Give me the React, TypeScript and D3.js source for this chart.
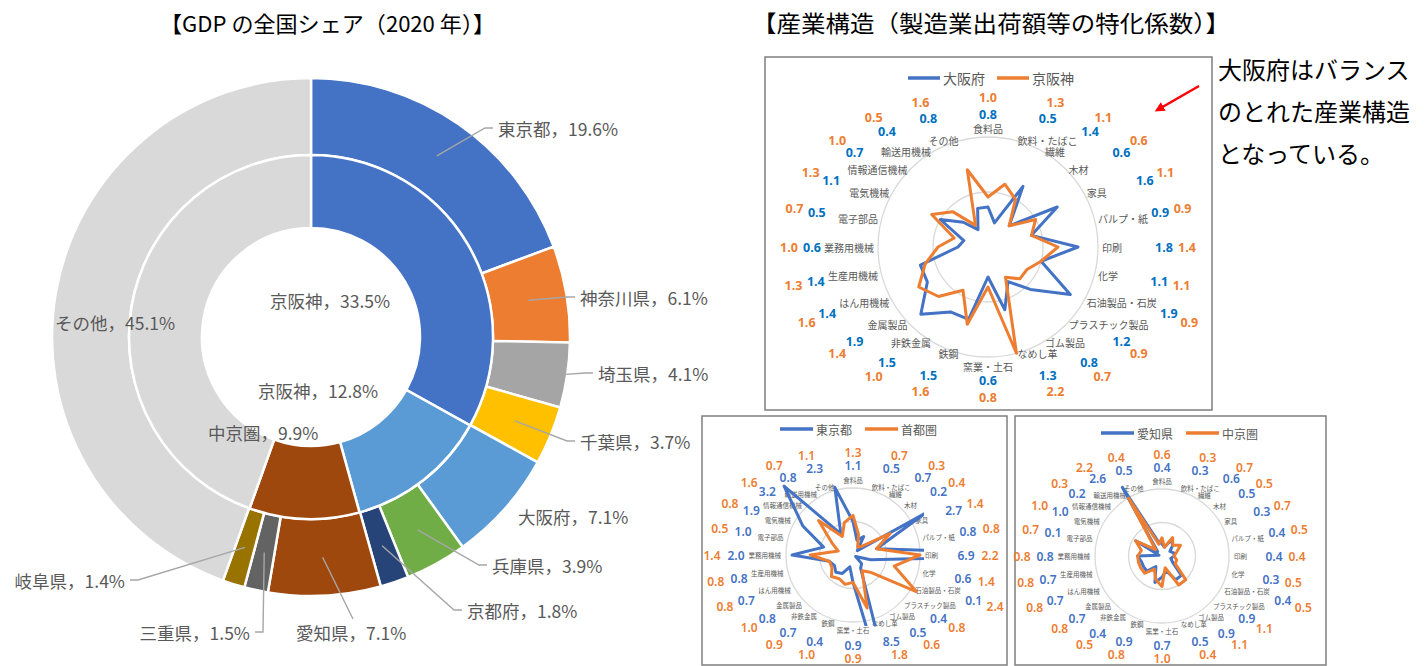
import * as d3 from "d3";
import { useEffect, useRef } from "react";

// 産業（特化係数）: 食料品から時計回り
const industries = [
  "食料品", "飲料・たばこ", "繊維", "木材", "家具", "パルプ・紙", "印刷", "化学",
  "石油製品・石炭", "プラスチック製品", "ゴム製品", "なめし革", "窯業・土石", "鉄鋼",
  "非鉄金属", "金属製品", "はん用機械", "生産用機械", "業務用機械", "電子部品",
  "電気機械", "情報通信機械", "輸送用機械", "その他",
];
const osaka = [0.8, 0.5, 1.4, 0.6, 1.6, 0.9, 1.8, 1.1, 1.9, 1.2, 0.8, 1.3, 0.6, 1.5, 1.5, 1.9, 1.4, 1.4, 0.6, 0.5, 1.1, 0.7, 0.4, 0.8];
const keihanshin = [1.0, 1.3, 1.1, 0.6, 1.1, 0.9, 1.4, 1.1, 0.9, 0.9, 0.7, 2.2, 0.8, 1.6, 1.0, 1.4, 1.6, 1.3, 1.0, 0.7, 1.3, 1.0, 0.5, 1.6];
const tokyo = [1.1, 0.5, 0.7, 0.2, 2.7, 0.8, 6.9, 0.6, 0.1, 0.4, 0.5, 8.5, 0.9, 0.4, 0.7, 0.8, 0.7, 0.8, 2.0, 1.0, 1.9, 3.2, 0.8, 2.3];
const shutoken = [1.3, 0.7, 0.3, 0.4, 1.4, 0.8, 2.2, 1.4, 2.4, 0.8, 0.6, 1.8, 0.9, 1.0, 0.9, 1.0, 0.8, 0.8, 1.4, 0.5, 0.8, 1.6, 0.7, 1.1];
const aichi = [0.4, 0.3, 0.6, 0.5, 0.3, 0.4, 0.4, 0.3, 0.4, 0.9, 0.9, 0.5, 0.7, 0.9, 0.4, 0.7, 0.7, 0.7, 0.8, 0.1, 1.0, 0.2, 2.6, 0.5];
const chukyo = [0.6, 0.3, 0.7, 0.5, 0.7, 0.5, 0.4, 0.5, 0.5, 1.1, 1.1, 0.4, 1.0, 0.8, 0.5, 0.8, 0.8, 0.8, 0.8, 0.7, 1.0, 0.3, 2.2, 0.4];
const ringValues = [1.1, 2.2];

// GDP シェア（外側：都府県、内側：圏域）
const prefNames = ["東京都", "神奈川県", "埼玉県", "千葉県", "大阪府", "兵庫県", "京都府", "愛知県", "三重県", "岐阜県", "その他"];
const prefShares = [19.6, 6.1, 4.1, 3.7, 7.1, 3.9, 1.8, 7.1, 1.5, 1.4, 45.1];
const prefColors = ["#4472C4", "#ED7D31", "#A5A5A5", "#FFC000", "#5B9BD5", "#70AD47", "#264478", "#9E480E", "#636363", "#997300", "#D9D9D9"];
const blocLabels = ["京阪神", "京阪神", "中京圏", ""];
const blocShares = [33.5, 12.8, 9.9, 45.1];
const blocColors = ["#4472C4", "#5B9BD5", "#9E480E", "#D9D9D9"];

const JP = '"Noto Sans CJK JP", "Noto Sans", sans-serif';
const NUM = '"Noto Sans", "DejaVu Sans", sans-serif';
const GRAY = "#595959";

type Series = { name: string; values: number[]; color: string; labelColor: string; rx: number; ry: number };
type RadarCfg = {
  id: string; cx: number; cy: number; rMax: number; vMax: number;
  labelRx: number; labelRy: number; catFont: number; lineW: number;
  valueFont: number; valueWeight: number; series: Series[];
  legend: { x: number; y: number; gap: number; font: number; len: number };
  clipHalf?: number;
};

function drawRadar(svg: d3.Selection<SVGSVGElement, unknown, null, undefined>, c: RadarCfg) {
  const n = industries.length;
  const ang = (i: number) => (i * 2 * Math.PI) / n;
  const r = d3.scaleLinear().domain([0, c.vMax]).range([0, c.rMax]);
  const g = svg.append("g").attr("transform", `translate(${c.cx},${c.cy})`);

  g.selectAll("circle.ring")
    .data(ringValues)
    .join("circle")
    .attr("class", "ring")
    .attr("r", (d) => r(d))
    .attr("fill", "none")
    .attr("stroke", "#D9D9D9")
    .attr("stroke-width", 1.3);

  // category labels
  const catY = (i: number) => {
    const co = Math.cos(ang(i));
    const ry = Math.abs(co) > 0.99 ? c.labelRx : c.labelRy;
    return -(ry + c.catFont / 2) * co;
  };
  const cats = g.selectAll("text.cat")
    .data(industries)
    .join("text")
    .attr("class", "cat")
    .attr("x", (_, i) => c.labelRx * Math.sin(ang(i)))
    .attr("y", (_, i) => catY(i))
    .attr("text-anchor", (_, i) => {
      const s = Math.sin(ang(i));
      return s > 0.01 ? "start" : s < -0.01 ? "end" : "middle";
    })
    .attr("dominant-baseline", "central")
    .attr("font-family", JP)
    .attr("font-size", c.catFont)
    .attr("fill", GRAY)
    .text((d) => d);

  const catBoxes = (cats.nodes() as SVGTextElement[]).map((node, i) => {
    const bb = node.getBBox();
    const y = catY(i);
    return { x0: bb.x, x1: bb.x + bb.width, y0: y - c.catFont * 0.6, y1: y + c.catFont * 0.6 };
  });

  const plot = g.append("g");
  if (c.clipHalf) {
    svg.append("clipPath").attr("id", c.id).append("rect")
      .attr("x", -c.clipHalf).attr("y", -c.clipHalf)
      .attr("width", c.clipHalf * 2).attr("height", c.clipHalf * 2);
    plot.attr("clip-path", `url(#${c.id})`);
  }
  const line = d3.lineRadial<number>()
    .angle((_, i) => ang(i))
    .radius((d) => r(d))
    .curve(d3.curveLinearClosed);
  c.series.forEach((s) => {
    plot.append("path")
      .attr("d", line(s.values))
      .attr("fill", "none")
      .attr("stroke", s.color)
      .attr("stroke-width", c.lineW)
      .attr("stroke-linejoin", "round");
  });

  // value labels outside: squarish ellipse, pushed sideways off the category labels
  const vw = c.valueFont * 0.8;
  const vh = c.valueFont * 0.5 + 1;
  const hits = (x: number, y: number) =>
    catBoxes.some((b) => x + vw > b.x0 - 2 && x - vw < b.x1 + 2 && y + vh > b.y0 && y - vh < b.y1);
  const base = (s: Series, i: number) => {
    const sn = Math.sin(ang(i));
    return {
      x: s.rx * Math.sign(sn) * Math.pow(Math.abs(sn), 0.8),
      y: -s.ry * Math.cos(ang(i)),
      dir: Math.abs(sn) < 0.01 ? 0 : Math.sign(sn),
    };
  };
  const shifts = industries.map((_, i) => {
    const p = base(c.series[0], i);
    let sh = 0;
    if (p.dir !== 0) while (sh < 60 && hits(p.x + p.dir * sh, p.y)) sh += 1;
    return sh;
  });
  c.series.forEach((s, k) => {
    const pos = industries.map((_, i) => {
      const p = base(s, i);
      let x = p.x + p.dir * shifts[i];
      if (p.dir !== 0) {
        let extra = 0;
        while (extra < 40 && hits(x + p.dir * extra, p.y)) extra += 1;
        x += p.dir * extra;
      }
      return [x, p.y];
    });
    g.selectAll(`text.val${k}`)
      .data(s.values)
      .join("text")
      .attr("class", `val${k}`)
      .attr("x", (_, i) => pos[i][0])
      .attr("y", (_, i) => pos[i][1])
      .attr("text-anchor", "middle")
      .attr("dominant-baseline", "central")
      .attr("font-family", NUM)
      .attr("font-weight", c.valueWeight)
      .attr("font-size", c.valueFont)
      .attr("fill", s.labelColor)
      .text((d) => d.toFixed(1));
  });

  // legend
  const lg = svg.append("g");
  c.series.forEach((s, k) => {
    const x0 = c.legend.x + k * c.legend.gap;
    lg.append("line")
      .attr("x1", x0).attr("x2", x0 + c.legend.len)
      .attr("y1", c.legend.y).attr("y2", c.legend.y)
      .attr("stroke", s.color).attr("stroke-width", c.lineW + 0.5);
    lg.append("text")
      .attr("x", x0 + c.legend.len + 3).attr("y", c.legend.y)
      .attr("dominant-baseline", "central")
      .attr("font-family", JP).attr("font-size", c.legend.font)
      .attr("fill", GRAY)
      .text(s.name);
  });
}

export default function App() {
  const ref = useRef<SVGSVGElement | null>(null);

  useEffect(() => {
    if (!ref.current) return;
    const svg = d3.select(ref.current);
    svg.selectAll("*").remove();

    svg.append("rect").attr("width", 1427).attr("height", 666).attr("fill", "#fff");

    // titles
    svg.append("text").attr("x", 160).attr("y", 22).attr("dominant-baseline", "central")
      .attr("font-family", JP).attr("font-size", 22).attr("fill", "#000")
      .attr("textLength", 335).attr("lengthAdjust", "spacingAndGlyphs")
      .text("【GDP の全国シェア（2020 年）】");
    svg.append("text").attr("x", 752).attr("y", 22).attr("dominant-baseline", "central")
      .attr("font-family", JP).attr("font-size", 23).attr("fill", "#000")
      .attr("textLength", 478).attr("lengthAdjust", "spacingAndGlyphs")
      .text("【産業構造（製造業出荷額等の特化係数）】");

    // ---- donut ----
    const dcx = 311, dcy = 337;
    const R = 259, rMid = 182, rIn = 109;
    const pie = d3.pie<number>().sort(null).value((d) => d);
    const outerArc = d3.arc<d3.PieArcDatum<number>>().innerRadius(rMid).outerRadius(R);
    const innerArc = d3.arc<d3.PieArcDatum<number>>().innerRadius(rIn).outerRadius(rMid);
    const dg = svg.append("g").attr("transform", `translate(${dcx},${dcy})`);
    const outerData = pie(prefShares);
    const innerData = pie(blocShares);

    dg.selectAll("path.outer").data(outerData).join("path")
      .attr("class", "outer")
      .attr("d", outerArc)
      .attr("fill", (_, i) => prefColors[i])
      .attr("stroke", "#fff").attr("stroke-width", 2.5);
    dg.selectAll("path.inner").data(innerData).join("path")
      .attr("class", "inner")
      .attr("d", innerArc)
      .attr("fill", (_, i) => blocColors[i])
      .attr("stroke", "#fff").attr("stroke-width", 2.5);

    // label layout (relative to donut centre)
    const prefLabelPos = [
      { dx: 187, dy: -209, anchor: "start", leader: "h", r0: 0 },
      { dx: 269, dy: -40, anchor: "start", leader: "h", r0: 0 },
      { dx: 287, dy: 36, anchor: "start", leader: "h", r0: 254 },
      { dx: 269, dy: 104, anchor: "start", leader: "h", r0: 0 },
      { dx: 207, dy: 179, anchor: "start", leader: "", r0: 0 },
      { dx: 181, dy: 228, anchor: "start", leader: "h", r0: 0 },
      { dx: 156, dy: 273, anchor: "start", leader: "h", r0: 0 },
      { dx: -15, dy: 295, anchor: "start", leader: "top", r0: 0 },
      { dx: -61, dy: 295, anchor: "end", leader: "h", r0: 0 },
      { dx: -186, dy: 243, anchor: "end", leader: "h", r0: 0 },
      { dx: -256, dy: -15, anchor: "start", leader: "", r0: 0 },
    ];
    const blocLabelPos = [
      { dx: -41, dy: -37 },
      { dx: -53, dy: 53 },
      { dx: -103, dy: 95 },
    ];
    const fmt = (name: string, v: number) => `${name}，${v.toFixed(1)}%`;

    outerData.forEach((d, i) => {
      const p = prefLabelPos[i];
      if (p.leader) {
        let start = outerArc.centroid(d);
        if (p.r0) {
          const a = (d.startAngle + d.endAngle) / 2;
          start = [p.r0 * Math.sin(a), -p.r0 * Math.cos(a)];
        }
        const pts: [number, number][] = [start];
        if (p.leader === "top") {
          pts.push([p.dx + 57, p.dy - 13]);
        } else if (p.anchor === "start") {
          pts.push([p.dx - 13, p.dy], [p.dx - 5, p.dy]);
        } else {
          pts.push([p.dx + 13, p.dy], [p.dx + 5, p.dy]);
        }
        dg.append("path")
          .attr("d", d3.line()(pts))
          .attr("fill", "none")
          .attr("stroke", "#A6A6A6")
          .attr("stroke-width", 1.4);
      }
      dg.append("text")
        .attr("x", p.dx).attr("y", p.dy)
        .attr("text-anchor", p.anchor)
        .attr("dominant-baseline", "central")
        .attr("font-family", JP).attr("font-size", 17.5)
        .attr("fill", GRAY)
        .text(fmt(prefNames[i], prefShares[i]));
    });
    blocLabelPos.forEach((p, i) => {
      dg.append("text")
        .attr("x", p.dx).attr("y", p.dy)
        .attr("dominant-baseline", "central")
        .attr("font-family", JP).attr("font-size", 17.5)
        .attr("fill", GRAY)
        .text(fmt(blocLabels[i], blocShares[i]));
    });

    // ---- radar frames ----
    const frames = [
      [765, 57, 447, 353],
      [702, 416, 305, 249],
      [1015, 416, 311, 249],
    ];
    svg.selectAll("rect.frame").data(frames).join("rect")
      .attr("class", "frame")
      .attr("x", (d) => d[0]).attr("y", (d) => d[1])
      .attr("width", (d) => d[2]).attr("height", (d) => d[3])
      .attr("fill", "#fff").attr("stroke", "#7F7F7F").attr("stroke-width", 1.5);

    drawRadar(svg, {
      id: "clipMain", cx: 988, cy: 247, rMax: 110, vMax: 2.2,
      labelRx: 114, labelRy: 105, catFont: 10, lineW: 3,
      valueFont: 12.5, valueWeight: 700,
      series: [
        { name: "大阪府", values: osaka, color: "#4472C4", labelColor: "#0070C0", rx: 176, ry: 133 },
        { name: "京阪神", values: keihanshin, color: "#ED7D31", labelColor: "#ED7D31", rx: 199, ry: 150 },
      ],
      legend: { x: 908, y: 78, gap: 89, font: 14, len: 32 },
    });
    drawRadar(svg, {
      id: "clipTokyo", cx: 853, cy: 555, rMax: 67, vMax: 2.2,
      labelRx: 72, labelRy: 67, catFont: 6.5, lineW: 3,
      valueFont: 12, valueWeight: 600,
      series: [
        { name: "東京都", values: tokyo, color: "#4472C4", labelColor: "#4472C4", rx: 113, ry: 90 },
        { name: "首都圏", values: shutoken, color: "#ED7D31", labelColor: "#ED7D31", rx: 137, ry: 103 },
      ],
      legend: { x: 780, y: 429, gap: 85, font: 12, len: 33 },
      clipHalf: 71,
    });
    drawRadar(svg, {
      id: "clipAichi", cx: 1162, cy: 556, rMax: 67, vMax: 2.2,
      labelRx: 72, labelRy: 67, catFont: 6.5, lineW: 3,
      valueFont: 12, valueWeight: 600,
      series: [
        { name: "愛知県", values: aichi, color: "#4472C4", labelColor: "#4472C4", rx: 112, ry: 89 },
        { name: "中京圏", values: chukyo, color: "#ED7D31", labelColor: "#ED7D31", rx: 135, ry: 102 },
      ],
      legend: { x: 1101, y: 433, gap: 85, font: 12, len: 33 },
      clipHalf: 71,
    });

    // annotation + arrow
    const defs = svg.append("defs");
    defs.append("marker").attr("id", "arrowRed")
      .attr("viewBox", "0 0 10 10").attr("refX", 5).attr("refY", 5)
      .attr("markerWidth", 4).attr("markerHeight", 4).attr("orient", "auto")
      .append("path").attr("d", "M0,0L10,5L0,10z").attr("fill", "#FF0000");
    svg.append("line")
      .attr("x1", 1199).attr("y1", 86).attr("x2", 1159).attr("y2", 109)
      .attr("stroke", "#FF0000").attr("stroke-width", 2.5)
      .attr("marker-end", "url(#arrowRed)");
    const note = ["大阪府はバランス", "のとれた産業構造", "となっている。"];
    svg.selectAll("text.note").data(note).join("text")
      .attr("class", "note")
      .attr("x", 1218).attr("y", (_, i) => 68 + i * 42)
      .attr("dominant-baseline", "central")
      .attr("font-family", JP).attr("font-size", 24).attr("fill", "#000")
      .text((d) => d);
  }, []);

  return (
    <svg
      ref={ref}
      width={1427}
      height={666}
      style={{ position: "absolute", left: 0, top: 0, display: "block" }}
      role="img"
      aria-label="GDP share and industry structure"
    />
  );
}
